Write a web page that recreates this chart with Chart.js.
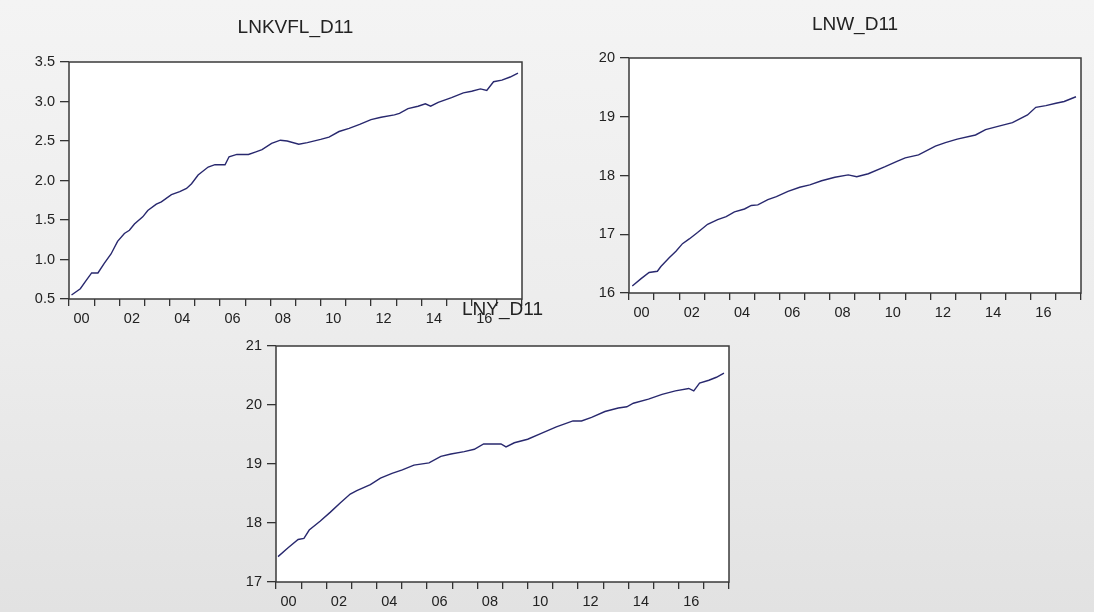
<!DOCTYPE html>
<html><head><meta charset="utf-8">
<script src="https://cdn.jsdelivr.net/npm/chart.js@4/dist/chart.umd.min.js"></script>
<style>
html,body{margin:0;padding:0;}
body{width:1094px;height:612px;overflow:hidden;position:relative;background:linear-gradient(to bottom,#f4f4f4 0%,#ececec 55%,#e2e2e2 100%);}
canvas{position:absolute;}
</style></head><body>
<canvas id="c1" width="560" height="340" style="left:0;top:0"></canvas>
<canvas id="c2" width="534" height="340" style="left:560px;top:0"></canvas>
<canvas id="c3" width="560" height="322" style="left:200px;top:290px"></canvas>
<script>
// ---- data ----
const yearTicks = [2000,2001,2002,2003,2004,2005,2006,2007,2008,2009,2010,2011,2012,2013,2014,2015,2016,2017,2018];

const kvflTitle = 'LNKVFL_D11';
const kvflTime = [2000.1,2000.45,2000.67,2000.9,2001.15,2001.4,2001.67,2001.93,2002.2,2002.4,2002.6,2002.93,2003.13,2003.47,2003.67,2004.07,2004.4,2004.67,2004.87,2005.13,2005.53,2005.8,2006.2,2006.36,2006.67,2007.13,2007.4,2007.67,2008.05,2008.4,2008.67,2009.13,2009.47,2010.0,2010.33,2010.73,2011.13,2011.55,2012.0,2012.4,2012.93,2013.13,2013.47,2013.87,2014.16,2014.37,2014.67,2015.2,2015.67,2016.0,2016.35,2016.6,2016.87,2017.2,2017.53,2017.84];
const kvflValue = [0.55,0.63,0.73,0.83,0.83,0.95,1.07,1.23,1.33,1.37,1.45,1.54,1.62,1.70,1.73,1.82,1.86,1.90,1.96,2.07,2.17,2.20,2.20,2.30,2.33,2.33,2.36,2.39,2.47,2.51,2.50,2.46,2.48,2.52,2.55,2.62,2.66,2.71,2.77,2.80,2.83,2.85,2.91,2.94,2.97,2.94,2.99,3.05,3.11,3.13,3.16,3.14,3.25,3.27,3.31,3.36];

const lnwTitle = 'LNW_D11';
const lnwTime = [2000.13,2000.47,2000.8,2001.13,2001.27,2001.6,2001.87,2002.13,2002.4,2002.73,2003.13,2003.53,2003.87,2004.2,2004.6,2004.87,2005.13,2005.53,2005.87,2006.33,2006.8,2007.2,2007.67,2008.2,2008.73,2009.07,2009.53,2010.2,2010.67,2011.0,2011.53,2012.2,2012.6,2013.07,2013.8,2014.2,2014.73,2015.27,2015.87,2016.2,2016.6,2017.0,2017.33,2017.8];
const lnwValue = [16.12,16.24,16.35,16.37,16.45,16.60,16.71,16.84,16.92,17.03,17.17,17.25,17.30,17.38,17.43,17.49,17.50,17.59,17.64,17.73,17.80,17.84,17.91,17.97,18.01,17.98,18.03,18.15,18.24,18.30,18.35,18.50,18.56,18.62,18.69,18.78,18.84,18.90,19.03,19.16,19.19,19.23,19.26,19.34];

const lnyTitle = 'LNY_D11';
const lnyTime = [2000.08,2000.48,2000.88,2001.11,2001.32,2001.75,2002.15,2002.55,2002.95,2003.21,2003.75,2004.15,2004.61,2005.02,2005.48,2006.08,2006.55,2006.95,2007.48,2007.88,2008.25,2008.94,2009.14,2009.47,2010.0,2010.54,2011.14,2011.8,2012.14,2012.54,2013.07,2013.6,2013.94,2014.2,2014.8,2015.34,2015.87,2016.4,2016.6,2016.83,2017.2,2017.5,2017.8];
const lnyValue = [17.43,17.58,17.72,17.74,17.88,18.03,18.18,18.34,18.49,18.55,18.65,18.76,18.84,18.90,18.98,19.02,19.13,19.17,19.21,19.25,19.34,19.34,19.29,19.36,19.42,19.52,19.63,19.73,19.73,19.79,19.89,19.95,19.97,20.03,20.10,20.18,20.24,20.28,20.24,20.37,20.42,20.47,20.54];

const kvflAxis = {min:0.5, max:3.5, step:0.5, digits:1};
const lnwAxis  = {min:16, max:20, step:1, digits:0};
const lnyAxis  = {min:17, max:21, step:1, digits:0};

// ---- drawing ----
const FONT = "'Liberation Sans', Arial, sans-serif";
const INK = '#222222';

const framePlugin = {
  id: 'frame',
  beforeDraw(chart) {
    const a = chart.chartArea, c = chart.ctx;
    c.save(); c.fillStyle = '#ffffff';
    c.fillRect(a.left, a.top, a.right - a.left, a.bottom - a.top);
    c.restore();
  },
  afterDraw(chart) {
    const a = chart.chartArea, c = chart.ctx;
    c.save(); c.strokeStyle = '#3a3a3a'; c.lineWidth = 1.5;
    c.strokeRect(a.left, a.top, a.right - a.left, a.bottom - a.top);
    c.restore();
  }
};

function build(id, title, times, values, ax, lay) {
  const pts = times.map((t, i) => ({x: t, y: values[i]}));
  return new Chart(document.getElementById(id), {
    type: 'line',
    data: { datasets: [{ data: pts, borderColor: '#28286e', borderWidth: 1.4, pointRadius: 0, tension: 0, fill: false }] },
    options: {
      responsive: false, animation: false, devicePixelRatio: 1,
      layout: { padding: { left: 0, right: lay.right, top: 0, bottom: lay.bottom } },
      plugins: {
        legend: { display: false }, tooltip: { enabled: false },
        title: { display: true, text: title, fullSize: false, color: INK,
                 font: { family: FONT, size: 19, weight: 'normal', lineHeight: 1.2 },
                 padding: { top: lay.titleTop, bottom: lay.titleBottom } }
      },
      scales: {
        x: {
          type: 'linear', min: 2000, max: 2018,
          afterBuildTicks: s => { s.ticks = yearTicks.map(v => ({ value: v })); },
          afterFit: s => { s.height = 30; },
          ticks: { autoSkip: false, maxRotation: 0, minRotation: 0, labelOffset: lay.half,
                   padding: 4, color: INK, font: { family: FONT, size: 14.5 },
                   callback: v => (v % 2 === 0 && v < 2018) ? String(v - 2000).padStart(2, '0') : '' },
          grid: { drawOnChartArea: false, drawTicks: true, tickLength: 7, color: '#333', lineWidth: 1.3 },
          border: { display: false }
        },
        y: {
          min: ax.min, max: ax.max,
          afterBuildTicks: s => { const t = []; for (let v = ax.min; v <= ax.max + 1e-9; v += ax.step) t.push({ value: +v.toFixed(4) }); s.ticks = t; },
          afterFit: s => { s.width = lay.yw; },
          ticks: { padding: 5, color: INK, font: { family: FONT, size: 14.5 },
                   callback: v => Number(v).toFixed(ax.digits) },
          grid: { drawOnChartArea: false, drawTicks: true, tickLength: 9, color: '#333', lineWidth: 1.3 },
          border: { display: false }
        }
      }
    },
    plugins: [framePlugin]
  });
}

build('c1', kvflTitle, kvflTime, kvflValue, kvflAxis, { yw: 69, right: 38, bottom: 11, titleTop: 16.6, titleBottom: 22.6, half: 12.6 });
build('c2', lnwTitle, lnwTime, lnwValue, lnwAxis, { yw: 69, right: 13, bottom: 17, titleTop: 13.1, titleBottom: 22.1, half: 12.6 });
build('c3', lnyTitle, lnyTime, lnyValue, lnyAxis, { yw: 76, right: 31, bottom: 0, titleTop: 8.6, titleBottom: 24.6, half: 12.6 });
</script>
</body></html>
